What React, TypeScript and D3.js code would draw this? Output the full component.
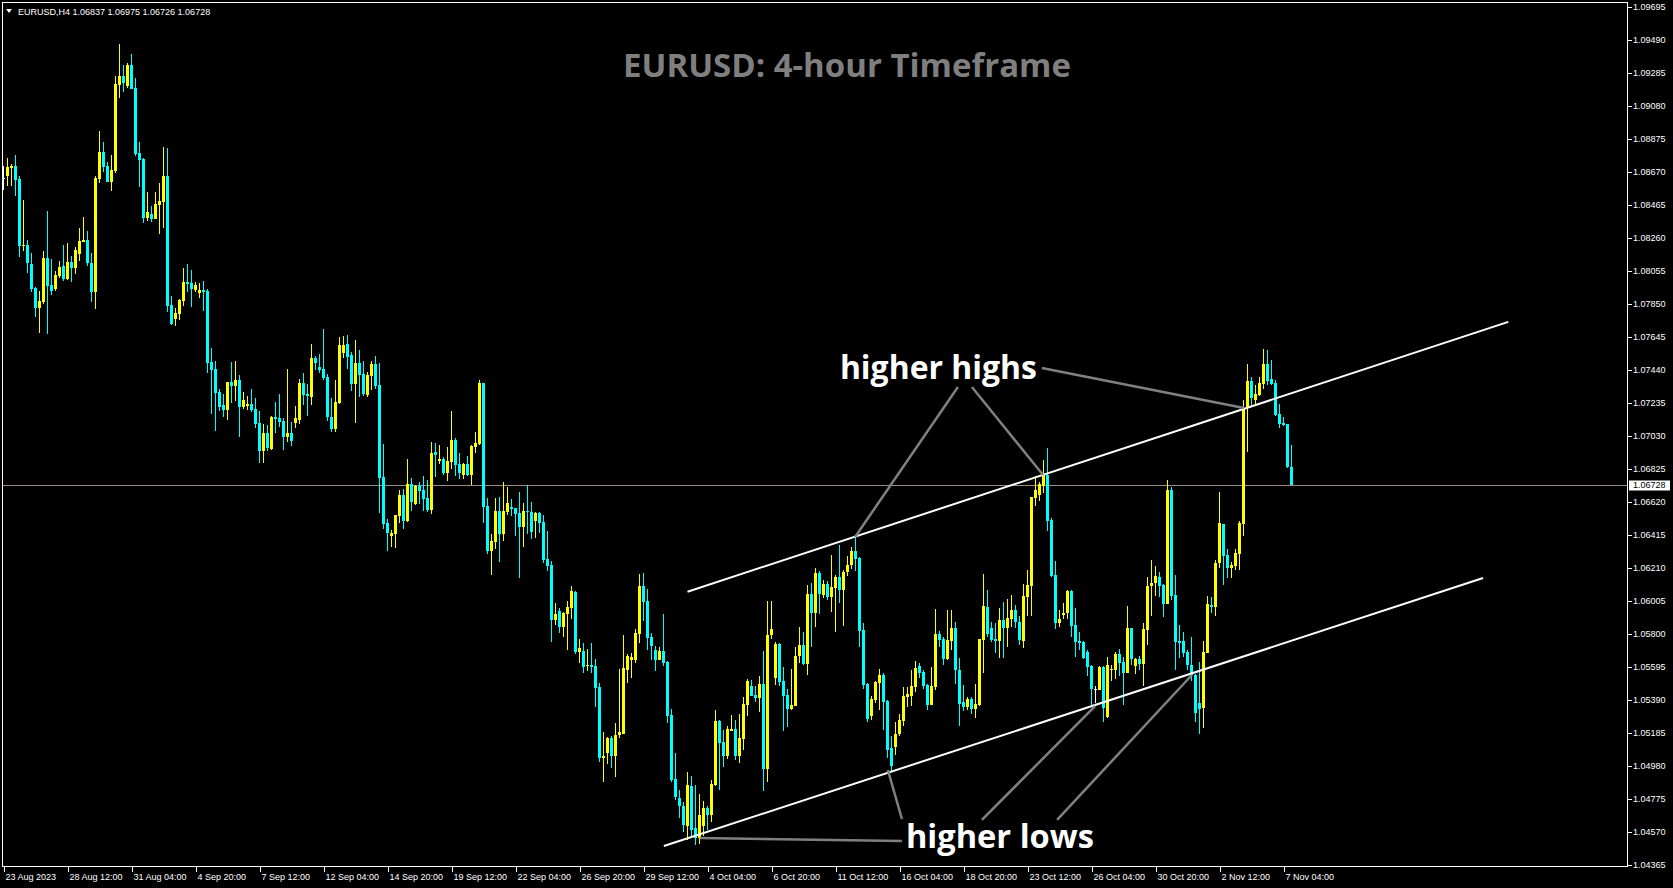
import { useEffect } from "react";
import * as d3 from "d3";

const WIDTH = 1673;
const HEIGHT = 888;
const PLOT = { left: 2.5, top: 2.5, right: 1627.5, bottom: 866.5 };

const SYMBOL_INFO = "EURUSD,H4  1.06837 1.06975 1.06726 1.06728";
const TITLE = "EURUSD: 4-hour Timeframe";

// H4 bars, 23 Aug 2023 20:00 -> 7 Nov 2023 04:00
const openPrices = [
  1.08632,1.08644,1.08694,1.08706,1.08626,1.08210,1.08216,1.08098,1.07949,1.07825,
  1.07862,1.08135,1.07967,1.07943,1.08023,1.08085,1.08005,1.08110,1.08073,1.08160,
  1.08234,1.08247,1.08104,1.07924,1.08626,1.08790,1.08706,1.08607,1.08675,1.09209,
  1.09265,1.09203,1.09333,1.09191,1.08787,1.08750,1.08383,1.08408,1.08377,1.08464,
  1.08483,1.08644,1.07843,1.07756,1.07787,1.07868,1.07986,1.07980,1.07936,1.07918,
  1.07936,1.07930,1.07489,1.07446,1.07303,1.07222,1.07191,1.07365,1.07340,1.07378,
  1.07210,1.07216,1.07229,1.07197,1.07111,1.06937,1.07049,1.06949,1.07148,1.07142,
  1.07123,1.07024,1.07049,1.07111,1.07129,1.07359,1.07291,1.07272,1.07514,1.07458,
  1.07446,1.07396,1.07148,1.07073,1.07235,1.07545,1.07601,1.07533,1.07353,1.07483,
  1.07415,1.07284,1.07402,1.07477,1.07347,1.06775,1.06490,1.06409,1.06421,1.06533,
  1.06664,1.06502,1.06732,1.06608,1.06719,1.06695,1.06645,1.06570,1.06931,1.06875,
  1.06887,1.06800,1.06868,1.07005,1.06856,1.06788,1.06856,1.06788,1.06962,1.06980,
  1.07359,1.06595,1.06316,1.06372,1.06564,1.06421,1.06558,1.06589,1.06583,1.06552,
  1.06465,1.06564,1.06558,1.06502,1.06552,1.06496,1.06266,1.06229,1.05887,1.05943,
  1.05844,1.05925,1.05962,1.06061,1.05689,1.05695,1.05602,1.05608,1.05602,1.05471,
  1.05031,1.05062,1.05155,1.05043,1.05173,1.05180,1.05577,1.05639,1.05639,1.05800,
  1.06098,1.06005,1.05782,1.05701,1.05639,1.05695,1.05627,1.05298,1.04900,1.04782,
  1.04733,1.04608,1.04857,1.04596,1.04534,1.04608,1.04720,1.04677,1.04863,1.05260,
  1.05130,1.05043,1.05198,1.05211,1.05043,1.05149,1.05360,1.05478,1.05422,1.05403,
  1.05490,1.04962,1.05794,1.05527,1.05738,1.05509,1.05422,1.05335,1.05353,1.05664,
  1.05732,1.05614,1.06049,1.05931,1.06179,1.06043,1.06111,1.06030,1.06086,1.06154,
  1.06074,1.06186,1.06229,1.06316,1.06272,1.05825,1.05490,1.05291,1.05391,1.05496,
  1.05546,1.05385,1.05093,1.05099,1.05180,1.05260,1.05409,1.05416,1.05471,1.05602,
  1.05565,1.05484,1.05360,1.05471,1.05800,1.05769,1.05645,1.05757,1.05838,1.05577,
  1.05378,1.05347,1.05397,1.05335,1.05360,1.05763,1.05968,1.05838,1.05769,1.05757,
  1.05887,1.05838,1.05894,1.05950,1.05875,1.05757,1.06030,1.06098,1.06645,1.06664,
  1.06719,1.06788,1.06508,1.06167,1.05869,1.05919,1.05931,1.06067,1.05856,1.05757,
  1.05751,1.05689,1.05602,1.05459,1.05453,1.05596,1.05285,1.05577,1.05577,1.05676,
  1.05627,1.05558,1.05838,1.05602,1.05645,1.05614,1.05825,1.06098,1.06117,1.06154,
  1.06105,1.05987,1.06695,1.06043,1.05757,1.05757,1.05689,1.05608,1.05546,1.05372,
  1.05341,1.05683,1.05981,1.05968,1.06241,1.06484,1.06291,1.06210,1.06223,1.06297,
  1.06484,1.07204,1.07371,1.07253,1.07284,1.07353,1.07477,1.07384,1.07359,1.07166,
  1.07111,1.07104,1.06837,
];

const highPrices = [
  1.08706,1.08756,1.08719,1.08775,1.08644,1.08495,1.08247,1.08166,1.07955,1.07930,
  1.08179,1.08427,1.08129,1.08054,1.08117,1.08216,1.08228,1.08148,1.08203,1.08321,
  1.08390,1.08303,1.08166,1.08644,1.08924,1.08855,1.08731,1.08775,1.09265,1.09464,
  1.09333,1.09346,1.09402,1.09253,1.08855,1.08756,1.08545,1.08458,1.08545,1.08601,
  1.08824,1.08818,1.07899,1.07825,1.07881,1.08073,1.08098,1.08061,1.07986,1.07980,
  1.07992,1.07943,1.07576,1.07496,1.07322,1.07291,1.07365,1.07489,1.07496,1.07409,
  1.07303,1.07278,1.07322,1.07266,1.07185,1.07104,1.07098,1.07154,1.07241,1.07291,
  1.07142,1.07446,1.07117,1.07216,1.07384,1.07421,1.07353,1.07601,1.07527,1.07539,
  1.07694,1.07415,1.07266,1.07378,1.07645,1.07651,1.07657,1.07551,1.07626,1.07564,
  1.07496,1.07427,1.07496,1.07527,1.07483,1.06980,1.06515,1.06446,1.06539,1.06695,
  1.06701,1.06887,1.06769,1.06726,1.06744,1.06781,1.06757,1.06993,1.06986,1.06974,
  1.06900,1.06962,1.07185,1.07017,1.06924,1.06862,1.06906,1.06974,1.07055,1.07378,
  1.07359,1.06645,1.06421,1.06645,1.06651,1.06744,1.06713,1.06639,1.06583,1.06682,
  1.06614,1.06726,1.06620,1.06558,1.06558,1.06539,1.06440,1.06254,1.05993,1.05962,
  1.05937,1.06005,1.06098,1.06067,1.05769,1.05745,1.05707,1.05745,1.05645,1.05496,
  1.05192,1.05161,1.05167,1.05248,1.05583,1.05794,1.05676,1.05683,1.05831,1.06173,
  1.06179,1.06080,1.05807,1.05726,1.05720,1.05925,1.05633,1.05335,1.05062,1.04832,
  1.04757,1.04944,1.04919,1.04863,1.04807,1.04764,1.04733,1.04894,1.05329,1.05267,
  1.05204,1.05229,1.05298,1.05267,1.05304,1.05409,1.05521,1.05515,1.05478,1.05540,
  1.05695,1.06005,1.06005,1.05751,1.05745,1.05596,1.05459,1.05583,1.05720,1.05844,
  1.05813,1.06105,1.06117,1.06210,1.06192,1.06136,1.06130,1.06291,1.06167,1.06353,
  1.06198,1.06285,1.06341,1.06403,1.06279,1.05869,1.05496,1.05416,1.05509,1.05583,
  1.05558,1.05391,1.05167,1.05254,1.05304,1.05471,1.05471,1.05577,1.05633,1.05620,
  1.05577,1.05490,1.05596,1.05956,1.05819,1.05782,1.05950,1.05950,1.05875,1.05652,
  1.05484,1.05409,1.05409,1.05490,1.05769,1.06173,1.06074,1.05875,1.05869,1.05962,
  1.05999,1.06018,1.06043,1.05981,1.05912,1.06111,1.06198,1.06651,1.06781,1.06744,
  1.06881,1.06955,1.06521,1.06254,1.05950,1.05993,1.06074,1.06074,1.05962,1.05813,
  1.05757,1.05701,1.05608,1.05478,1.05602,1.05602,1.05658,1.05608,1.05689,1.05707,
  1.05658,1.05974,1.05838,1.05652,1.05664,1.05869,1.06154,1.06260,1.06223,1.06186,
  1.06111,1.06757,1.06713,1.06167,1.05856,1.05813,1.05701,1.05782,1.05552,1.05627,
  1.05757,1.06036,1.06030,1.06260,1.06682,1.06484,1.06328,1.06247,1.06328,1.06502,
  1.07253,1.07477,1.07396,1.07347,1.07396,1.07570,1.07564,1.07502,1.07378,1.07229,
  1.07148,1.07104,1.06975,
];

const lowPrices = [
  1.08557,1.08582,1.08582,1.08520,1.08141,1.08179,1.08042,1.07924,1.07769,1.07669,
  1.07850,1.07663,1.07905,1.07930,1.08011,1.07992,1.07998,1.07986,1.08036,1.08117,
  1.08234,1.08085,1.07862,1.07818,1.08601,1.08669,1.08607,1.08551,1.08663,1.09128,
  1.09166,1.09191,1.09184,1.08768,1.08576,1.08352,1.08365,1.08359,1.08377,1.08284,
  1.08321,1.07800,1.07719,1.07713,1.07750,1.07837,1.07924,1.07831,1.07924,1.07887,
  1.07806,1.07421,1.07166,1.07061,1.07185,1.07148,1.07129,1.07235,1.07247,1.07024,
  1.07197,1.07191,1.07179,1.07080,1.06862,1.06862,1.06937,1.06943,1.07049,1.07086,
  1.06943,1.06993,1.06968,1.07080,1.07104,1.07222,1.07154,1.07222,1.07440,1.07421,
  1.07378,1.07123,1.07055,1.07055,1.07229,1.07514,1.07446,1.07309,1.07111,1.07272,
  1.07278,1.07272,1.07316,1.07322,1.06552,1.06452,1.06316,1.06341,1.06335,1.06490,
  1.06452,1.06496,1.06564,1.06602,1.06608,1.06564,1.06558,1.06546,1.06775,1.06856,
  1.06788,1.06751,1.06825,1.06781,1.06763,1.06763,1.06781,1.06726,1.06924,1.06974,
  1.06490,1.06297,1.06167,1.06328,1.06247,1.06378,1.06539,1.06533,1.06409,1.06148,
  1.06341,1.06421,1.06390,1.06397,1.06428,1.06241,1.06192,1.05751,1.05856,1.05807,
  1.05782,1.05701,1.05894,1.05676,1.05620,1.05558,1.05571,1.05558,1.05347,1.05006,
  1.04882,1.04993,1.04969,1.04913,1.05155,1.05180,1.05496,1.05527,1.05620,1.05745,
  1.05881,1.05701,1.05639,1.05571,1.05639,1.05602,1.05248,1.04882,1.04770,1.04658,
  1.04571,1.04521,1.04534,1.04490,1.04497,1.04546,1.04584,1.04633,1.04857,1.04832,
  1.04975,1.05024,1.05198,1.05018,1.05000,1.05080,1.05291,1.05416,1.05378,1.05316,
  1.04826,1.04882,1.05769,1.05484,1.05478,1.05198,1.05223,1.05329,1.05353,1.05620,
  1.05608,1.05546,1.05720,1.05844,1.05925,1.06024,1.06012,1.05937,1.05813,1.05993,
  1.05850,1.06161,1.06204,1.06192,1.05720,1.05459,1.05254,1.05267,1.05372,1.05329,
  1.05204,1.05031,1.04944,1.05049,1.05167,1.05229,1.05347,1.05353,1.05440,1.05527,
  1.05459,1.05329,1.05360,1.05453,1.05720,1.05608,1.05639,1.05701,1.05490,1.05229,
  1.05322,1.05329,1.05304,1.05279,1.05353,1.05558,1.05782,1.05751,1.05683,1.05652,
  1.05652,1.05720,1.05844,1.05838,1.05732,1.05714,1.05912,1.05912,1.06595,1.06626,
  1.06676,1.06440,1.06154,1.05831,1.05844,1.05894,1.05894,1.05782,1.05658,1.05701,
  1.05645,1.05540,1.05353,1.05372,1.05453,1.05254,1.05279,1.05509,1.05521,1.05540,
  1.05360,1.05558,1.05608,1.05552,1.05577,1.05478,1.05732,1.05912,1.06036,1.06030,
  1.05906,1.05987,1.06012,1.05577,1.05652,1.05658,1.05577,1.05509,1.05254,1.05180,
  1.05217,1.05683,1.05931,1.05912,1.06210,1.06105,1.06148,1.06148,1.06198,1.06198,
  1.06409,1.06931,1.07222,1.07222,1.07278,1.07322,1.07347,1.07347,1.07154,1.07080,
  1.07092,1.06831,1.06726,
];

const closePrices = [
  1.08632,1.08700,1.08706,1.08619,1.08210,1.08216,1.08104,1.07943,1.07825,1.07868,
  1.08135,1.07961,1.07930,1.08030,1.08079,1.08005,1.08110,1.08073,1.08185,1.08241,
  1.08247,1.08104,1.07924,1.08632,1.08790,1.08700,1.08607,1.08681,1.09215,1.09265,
  1.09222,1.09333,1.09184,1.08781,1.08744,1.08383,1.08421,1.08377,1.08470,1.08489,
  1.08644,1.07837,1.07725,1.07794,1.07874,1.07986,1.07974,1.07943,1.07967,1.07936,
  1.07924,1.07483,1.07440,1.07297,1.07210,1.07191,1.07365,1.07340,1.07378,1.07210,
  1.07253,1.07229,1.07191,1.07104,1.06937,1.07049,1.06955,1.07148,1.07135,1.07117,
  1.07024,1.07049,1.06999,1.07142,1.07359,1.07284,1.07278,1.07514,1.07483,1.07440,
  1.07390,1.07148,1.07073,1.07241,1.07595,1.07595,1.07520,1.07353,1.07483,1.07409,
  1.07291,1.07409,1.07477,1.07340,1.06769,1.06484,1.06428,1.06428,1.06539,1.06664,
  1.06502,1.06732,1.06620,1.06719,1.06688,1.06639,1.06570,1.06924,1.06912,1.06887,
  1.06800,1.06875,1.07005,1.06850,1.06800,1.06856,1.06788,1.06968,1.06986,1.07359,
  1.06589,1.06316,1.06378,1.06564,1.06421,1.06564,1.06614,1.06577,1.06546,1.06465,
  1.06564,1.06558,1.06434,1.06552,1.06490,1.06260,1.06223,1.05887,1.05925,1.05844,
  1.05931,1.05968,1.06067,1.05689,1.05714,1.05596,1.05608,1.05596,1.05465,1.05031,
  1.05043,1.05155,1.05043,1.05173,1.05192,1.05589,1.05664,1.05658,1.05807,1.06098,
  1.05999,1.05776,1.05726,1.05639,1.05695,1.05620,1.05291,1.04894,1.04788,1.04733,
  1.04615,1.04863,1.04584,1.04534,1.04677,1.04720,1.04677,1.04869,1.05260,1.05124,
  1.05043,1.05211,1.05211,1.05043,1.05155,1.05366,1.05509,1.05416,1.05403,1.05490,
  1.04962,1.05794,1.05831,1.05738,1.05502,1.05416,1.05335,1.05360,1.05664,1.05732,
  1.05614,1.06049,1.05931,1.06179,1.06049,1.06111,1.06030,1.06092,1.06154,1.06074,
  1.06186,1.06229,1.06316,1.06266,1.05819,1.05484,1.05273,1.05397,1.05502,1.05546,
  1.05378,1.05080,1.04981,1.05180,1.05267,1.05416,1.05428,1.05478,1.05589,1.05558,
  1.05478,1.05360,1.05478,1.05800,1.05763,1.05645,1.05763,1.05838,1.05577,1.05366,
  1.05347,1.05397,1.05335,1.05366,1.05769,1.05974,1.05800,1.05763,1.05757,1.05887,
  1.05838,1.05900,1.05950,1.05875,1.05763,1.06036,1.06105,1.06651,1.06695,1.06732,
  1.06788,1.06502,1.06161,1.05869,1.05894,1.05931,1.06067,1.05850,1.05751,1.05745,
  1.05652,1.05596,1.05459,1.05459,1.05596,1.05341,1.05608,1.05583,1.05676,1.05620,
  1.05558,1.05838,1.05645,1.05645,1.05614,1.05831,1.06098,1.06117,1.06161,1.06098,
  1.05987,1.06695,1.06036,1.05751,1.05745,1.05683,1.05608,1.05546,1.05310,1.05335,
  1.05689,1.05987,1.05968,1.06241,1.06490,1.06285,1.06210,1.06229,1.06303,1.06490,
  1.07204,1.07371,1.07266,1.07291,1.07359,1.07477,1.07371,1.07353,1.07160,1.07104,
  1.07098,1.06837,1.06728,
];

const priceTicks = [
  1.04365, 1.0457, 1.04775, 1.0498, 1.05185, 1.0539, 1.05595, 1.058, 1.06005,
  1.0621, 1.06415, 1.0662, 1.06825, 1.0703, 1.07235, 1.0744, 1.07645, 1.0785,
  1.08055, 1.0826, 1.08465, 1.0867, 1.08875, 1.0908, 1.09285, 1.0949, 1.09695,
];

const timeLabels = [
  "23 Aug 2023", "28 Aug 12:00", "31 Aug 04:00", "4 Sep 20:00", "7 Sep 12:00",
  "12 Sep 04:00", "14 Sep 20:00", "19 Sep 12:00", "22 Sep 04:00", "26 Sep 20:00",
  "29 Sep 12:00", "4 Oct 04:00", "6 Oct 20:00", "11 Oct 12:00", "16 Oct 04:00",
  "18 Oct 20:00", "23 Oct 12:00", "26 Oct 04:00", "30 Oct 20:00", "2 Nov 12:00",
  "7 Nov 04:00",
];
const BARS_PER_LABEL = 16;
const BID = 1.06728;

// channel lines as [bar index, price]
const upperChannel = [[171, 1.06063], [376.2, 1.07738]];
const lowerChannel = [[165.1, 1.04484], [369.9, 1.06148]];

const highsLabel = { text: "higher highs", at: [209.1, 1.07384], length: 197 };
const lowsLabel = { text: "higher lows", at: [225.6, 1.04472], length: 188 };
const highsPointers = [
  [[238.6, 1.07334], [212.9, 1.06403]],
  [[242.1, 1.07334], [259.9, 1.06788]],
  [[259.6, 1.07452], [310.1, 1.07204]],
];
const lowsPointers = [
  [[224.6, 1.04515], [174.1, 1.04534]],
  [[224.6, 1.04652], [221.1, 1.04956]],
  [[244.6, 1.04646], [272.9, 1.05353]],
  [[263.4, 1.04646], [297.1, 1.05546]],
];

const BULL = "#ffff00";
const BEAR = "#00ffff";
const AXIS_FONT = "'Liberation Sans', Arial, sans-serif";
const NOTE_FONT = "'Open Sans', 'Noto Sans', sans-serif";

export default function App() {
  useEffect(() => {
    document.body.style.margin = "0";
    document.body.style.background = "#000";
  }, []);

  const x = d3.scaleLinear().domain([0, 1]).range([3.5, 7.5]);
  const y = d3.scaleLinear().domain([1.04365, 1.09695]).range([865.2, 6.7]);

  const line = d3
    .line<number[]>()
    .x((d) => x(d[0]))
    .y((d) => y(d[1]));

  const candles = openPrices.map((o, i) => {
    const c = closePrices[i];
    const color = c > o ? BULL : c < o ? BEAR : "#ffffff";
    const cx = x(i);
    const top = y(Math.max(o, c));
    const h = Math.max(1, Math.abs(y(o) - y(c)));
    return (
      <g key={i}>
        <line
          x1={cx}
          x2={cx}
          y1={y(highPrices[i])}
          y2={y(lowPrices[i])}
          stroke={color}
          strokeWidth={1}
        />
        <rect x={cx - 1.5} y={top} width={3} height={h} fill={color} />
      </g>
    );
  });

  const bidY = Math.round(y(BID)) + 0.5;

  return (
    <svg
      width={WIDTH}
      height={HEIGHT}
      style={{ display: "block", position: "fixed", left: 0, top: 0, background: "#000" }}
    >
      <defs>
        <clipPath id="plot">
          <rect
            x={PLOT.left}
            y={PLOT.top}
            width={PLOT.right - PLOT.left}
            height={PLOT.bottom - PLOT.top}
          />
        </clipPath>
      </defs>
      <rect width={WIDTH} height={HEIGHT} fill="#000" />

      {/* title */}
      <text
        x={623}
        y={77}
        fill="#7f7f7f"
        fontFamily={NOTE_FONT}
        fontWeight={700}
        fontSize={33}
        textLength={448}
        lengthAdjust="spacingAndGlyphs"
      >
        {TITLE}
      </text>

      <g clipPath="url(#plot)">
        <line
          x1={PLOT.left}
          x2={PLOT.right}
          y1={bidY}
          y2={bidY}
          stroke="#9c8b7e"
          strokeWidth={1}
        />
        <g shapeRendering="crispEdges">{candles}</g>

        <path d={line(upperChannel) ?? ""} stroke="#fff" strokeWidth={2} fill="none" />
        <path d={line(lowerChannel) ?? ""} stroke="#fff" strokeWidth={2} fill="none" />

        {[...highsPointers, ...lowsPointers].map((seg, k) => (
          <path
            key={k}
            d={line(seg) ?? ""}
            stroke="#808080"
            strokeWidth={2.5}
            fill="none"
          />
        ))}
      </g>

      <text
        x={x(highsLabel.at[0])}
        y={y(highsLabel.at[1])}
        fill="#fff"
        fontFamily={NOTE_FONT}
        fontWeight={700}
        fontSize={33}
        textLength={highsLabel.length}
        lengthAdjust="spacingAndGlyphs"
      >
        {highsLabel.text}
      </text>
      <text
        x={x(lowsLabel.at[0])}
        y={y(lowsLabel.at[1])}
        fill="#fff"
        fontFamily={NOTE_FONT}
        fontWeight={700}
        fontSize={33}
        textLength={lowsLabel.length}
        lengthAdjust="spacingAndGlyphs"
      >
        {lowsLabel.text}
      </text>

      {/* symbol header */}
      <path d="M6,9 L12,9 L9,13 Z" fill="#fff" />
      <text x={18} y={14.5} fill="#fff" fontFamily={AXIS_FONT} fontSize={9}>
        {SYMBOL_INFO}
      </text>

      {/* frame */}
      <rect
        x={PLOT.left}
        y={PLOT.top}
        width={PLOT.right - PLOT.left}
        height={PLOT.bottom - PLOT.top}
        fill="none"
        stroke="#fff"
        strokeWidth={1}
        shapeRendering="crispEdges"
      />

      {/* price axis */}
      <g fontFamily={AXIS_FONT} fontSize={9} fill="#fff">
        {priceTicks.map((p) => {
          const ty = Math.round(y(p)) + 0.5;
          return (
            <g key={p}>
              <line
                x1={PLOT.right}
                x2={PLOT.right + 4}
                y1={ty}
                y2={ty}
                stroke="#fff"
                shapeRendering="crispEdges"
              />
              <text x={1633} y={ty} dominantBaseline="middle">
                {p.toFixed(5)}
              </text>
            </g>
          );
        })}
        <rect x={1629} y={bidY - 5} width={41} height={10} fill="#fff" />
        <text x={1633} y={bidY} dominantBaseline="middle" fill="#000">
          {BID.toFixed(5)}
        </text>
      </g>

      {/* time axis */}
      <g fontFamily={AXIS_FONT} fontSize={9} fill="#fff">
        {timeLabels.map((t, k) => {
          const tx = Math.round(x(k * BARS_PER_LABEL)) + 0.5;
          return (
            <g key={t}>
              <line
                x1={tx}
                x2={tx}
                y1={PLOT.bottom}
                y2={PLOT.bottom + 5}
                stroke="#fff"
                shapeRendering="crispEdges"
              />
              <text x={tx + 1} y={879.5}>
                {t}
              </text>
            </g>
          );
        })}
      </g>
    </svg>
  );
}
